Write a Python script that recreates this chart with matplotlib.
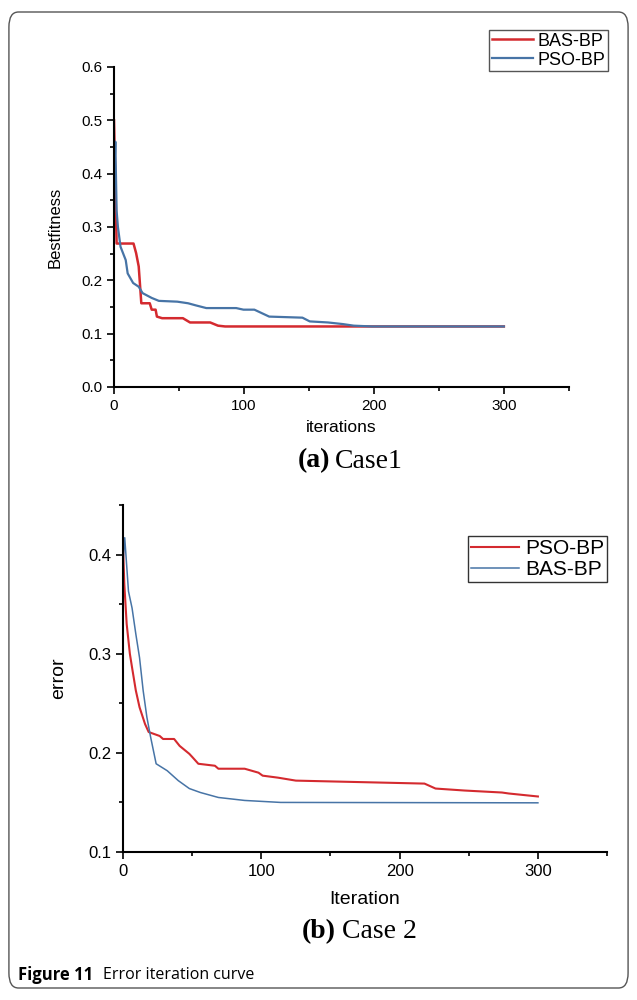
import matplotlib.pyplot as plt  # Importamos matplotlib para crear gráficos.
from matplotlib.patches import FancyBboxPatch
from matplotlib.ticker import MultipleLocator

# Datos del caso 1
bas1_iter = [0, 2, 15, 17, 19, 21, 27.5, 29, 32, 33, 37, 53, 58.5, 74, 80, 85.5, 300]
bas1_fit = [0.5, 0.269, 0.269, 0.251, 0.226, 0.157, 0.157, 0.145, 0.145, 0.132, 0.129, 0.129,
            0.121, 0.121, 0.115, 0.1135, 0.1135]
pso1_iter = [0, 1, 2, 3, 5, 9, 10.5, 14.7, 19, 22, 29, 34.5, 48.7, 57, 63, 71, 94, 99.6,
             108, 119.4, 145, 150.6, 164.7, 176, 184.5, 198.7, 300]
pso1_fit = [0.38, 0.46, 0.33, 0.30, 0.263, 0.238, 0.213, 0.195, 0.188, 0.176, 0.167, 0.1615,
            0.160, 0.157, 0.153, 0.148, 0.148, 0.145, 0.145, 0.132, 0.130, 0.123, 0.121,
            0.118, 0.115, 0.1135, 0.1135]

# Datos del caso 2
pso2_iter = [0, 1, 2.7, 5, 6.6, 9.3, 12, 16, 18.6, 26.6, 29, 37, 41, 48, 50, 54.5, 66.5, 69,
             88, 98, 101, 112, 125, 218, 226, 247, 274, 279, 300]
pso2_err = [0.41, 0.37, 0.33, 0.30, 0.286, 0.263, 0.246, 0.229, 0.221, 0.217, 0.214, 0.214,
            0.207, 0.199, 0.196, 0.189, 0.187, 0.184, 0.184, 0.180, 0.177, 0.175, 0.172,
            0.169, 0.164, 0.162, 0.160, 0.159, 0.156]
bas2_iter = [0, 1.3, 4, 6.6, 9.3, 12, 14.6, 17.3, 20, 24, 32, 40, 48, 56, 69, 88, 114, 300]
bas2_err = [0.39, 0.417, 0.363, 0.346, 0.32, 0.296, 0.263, 0.236, 0.216, 0.189, 0.182, 0.172,
            0.164, 0.160, 0.155, 0.152, 0.150, 0.1496]

RED = '#d42a2f'
BLUE = '#4774a6'


# Función para dar el estilo de ejes tipo Origin
def style_axes(ax, ymin, ymax, ymajor, labelsize):
    ax.set_xlim(0, 350)
    ax.set_ylim(ymin, ymax)
    ax.spines['top'].set_visible(False)
    ax.spines['right'].set_visible(False)
    ax.xaxis.set_major_locator(MultipleLocator(100))
    ax.xaxis.set_minor_locator(MultipleLocator(50))
    ax.yaxis.set_major_locator(MultipleLocator(ymajor))
    ax.yaxis.set_minor_locator(MultipleLocator(ymajor / 2))
    ax.tick_params(which='major', direction='out', length=5, width=1.2, labelsize=labelsize)
    ax.tick_params(which='minor', direction='out', length=3, width=1.2)
    for s in ('left', 'bottom'):
        ax.spines[s].set_linewidth(1.5)


fig = plt.figure(figsize=(6.37, 10), dpi=100)
plt.rcParams['font.family'] = ['Liberation Sans', 'DejaVu Sans']

# Marco redondeado de la figura
frame = FancyBboxPatch((0.014, 0.012), 0.972, 0.976, boxstyle='round,pad=0,rounding_size=0.015',
                       transform=fig.transFigure, fill=False, edgecolor='#555555', linewidth=1.0)
fig.patches.append(frame)

# Gráfico (a)
ax1 = fig.add_axes([0.179, 0.613, 0.714, 0.320])
ax1.plot(bas1_iter, bas1_fit, color=RED, linewidth=1.8, label='BAS-BP')
ax1.plot(pso1_iter, pso1_fit, color=BLUE, linewidth=1.6, label='PSO-BP')
style_axes(ax1, 0, 0.6, 0.1, 11)
ax1.set_xlabel('iterations', fontsize=12.5, labelpad=5)
ax1.set_ylabel('Bestfitness', fontsize=12, labelpad=13)
ax1.legend(loc='upper right', bbox_to_anchor=(0.955, 0.970), bbox_transform=fig.transFigure,
           fontsize=13, fancybox=False, edgecolor='#555555', framealpha=1,
           handlelength=2.3, borderpad=0.15, labelspacing=0.1, handletextpad=0.25,
           borderaxespad=0)

# Gráfico (b)
ax2 = fig.add_axes([0.193, 0.148, 0.760, 0.347])
ax2.plot(pso2_iter, pso2_err, color=RED, linewidth=1.5, label='PSO-BP')
ax2.plot(bas2_iter, bas2_err, color=BLUE, linewidth=1.1, label='BAS-BP')
style_axes(ax2, 0.1, 0.45, 0.1, 12)
ax2.set_xlabel('Iteration', fontsize=14, labelpad=9)
ax2.set_ylabel('error', fontsize=14, labelpad=15)
ax2.legend(loc='upper right', bbox_to_anchor=(0.953, 0.464), bbox_transform=fig.transFigure,
           fontsize=15, fancybox=False, edgecolor='#333333', framealpha=1,
           handlelength=2.3, borderpad=0.15, labelspacing=0.1, handletextpad=0.3,
           borderaxespad=0)

# Subtítulos de cada caso
fig.text(0.518, 0.539, '(a)', ha='right', va='center', fontsize=20, fontweight='bold',
         family='Liberation Serif')
fig.text(0.526, 0.539, 'Case1', ha='left', va='center', fontsize=20, family='Liberation Serif')
fig.text(0.527, 0.068, '(b)', ha='right', va='center', fontsize=20, fontweight='bold',
         family='Liberation Serif')
fig.text(0.537, 0.068, 'Case 2', ha='left', va='center', fontsize=20, family='Liberation Serif')

# Pie de figura
fig.text(0.028, 0.025, 'Figure 11', ha='left', va='center', fontsize=12, fontweight='bold',
         family='Open Sans')
fig.text(0.162, 0.025, 'Error iteration curve', ha='left', va='center', fontsize=11.5,
         family='Open Sans')

fig.savefig('out.png', dpi=100)
